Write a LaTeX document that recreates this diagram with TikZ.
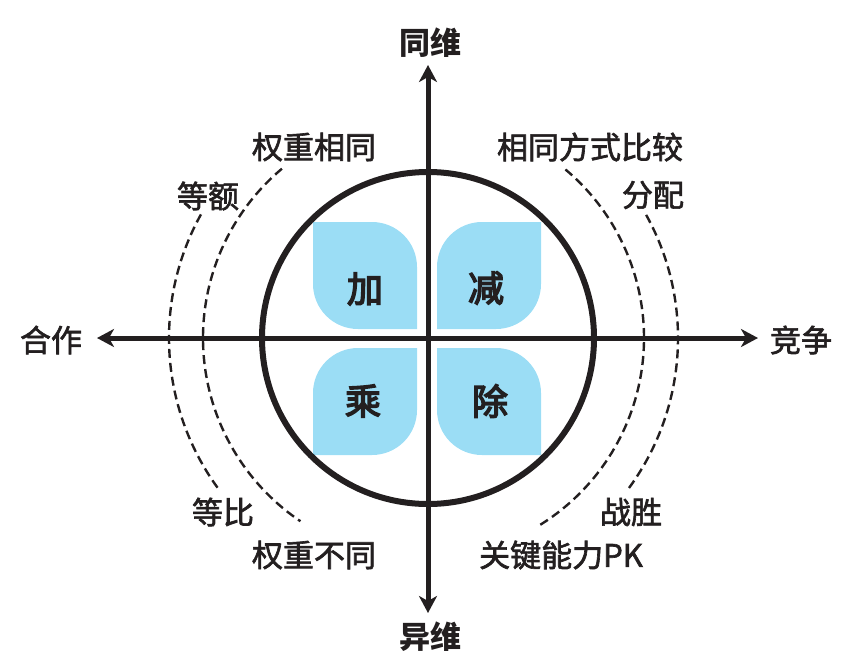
\documentclass[tikz,border=0pt]{standalone}
\usepackage{fontspec}
\setmainfont{Noto Sans CJK SC}
\newfontfamily\lblfont[FakeBold=2]{Noto Sans CJK SC}
\newfontfamily\opfont[FakeBold=4]{Noto Sans CJK SC}
\usetikzlibrary{arrows.meta}
\definecolor{ink}{RGB}{35,31,32}
\definecolor{sky}{RGB}{155,221,245}
\begin{document}
\begin{tikzpicture}[x=1pt,y=-1pt,
  axis/.style={draw=ink,line width=5pt,{Stealth[length=17pt,width=18pt,inset=5pt]}-{Stealth[length=17pt,width=18pt,inset=5pt]}},
  ring/.style={draw=ink,line width=6pt},
  dasharc/.style={draw=ink,line width=2.4pt,dash pattern=on 9pt off 5pt},
  leaf/.style={fill=sky},
  lbl/.style={text=ink,font=\fontsize{31}{31}\lblfont,inner sep=0pt},
  ttl/.style={text=ink,font=\fontsize{31}{31}\selectfont\bfseries,inner sep=0pt},
  op/.style={text=ink,font=\fontsize{36}{36}\opfont,inner sep=0pt}]
\useasboundingbox (0,0) rectangle (849,665);
% blue leaves
\path[leaf] (313,222) -- (372,222) .. controls (396.85,222) and (417,242.15) .. (417,267) -- (417,329) -- (358,329) .. controls (333.15,329) and (313,308.85) .. (313,284) -- cycle;
\path[leaf] (541,222) -- (541,284) .. controls (541,308.85) and (520.85,329) .. (496,329) -- (437,329) -- (437,267) .. controls (437,242.15) and (457.15,222) .. (482,222) -- cycle;
\path[leaf] (417,348) -- (417,410) .. controls (417,434.85) and (396.85,455) .. (372,455) -- (313,455) -- (313,393) .. controls (313,368.15) and (333.15,348) .. (358,348) -- cycle;
\path[leaf] (437,348) -- (496,348) .. controls (520.85,348) and (541,368.15) .. (541,393) -- (541,455) -- (482,455) .. controls (457.15,455) and (437,434.85) .. (437,410) -- cycle;
% circle
\coordinate (O) at (428,338);
\coordinate (D) at (424,338);
\path[ring] (O) circle[radius=166];
% axes
\coordinate (L) at (97,338);
\coordinate (R) at (758,338);
\coordinate (T) at (428,65);
\coordinate (B) at (428,613);
\path[axis] (L) -- (R);
\path[axis] (T) -- (B);
% dashed arcs
\path[dasharc] (D) ++(-50:220) arc[start angle=-50,end angle=59,radius=220];
\path[dasharc] (D) ++(-29:254) arc[start angle=-29,end angle=37,radius=254];
\path[dasharc] (D) ++(-151:255) arc[start angle=-151,end angle=-217,radius=255];
\path[dasharc] (D) ++(-130:221) arc[start angle=-130,end angle=-236,radius=221];
% operators
\node[op] (add) at (365,289) {加};
\node[op] (sub) at (486,288) {减};
\node[op] (mul) at (363,401) {乘};
\node[op] (div) at (490,401) {除};
% axis labels
\node[ttl] (top) at (430,43) {同维};
\node[ttl] (bot) at (430,637) {异维};
\node[lbl] (left) at (51,340) {合作};
\node[lbl] (right) at (801,340) {竞争};
% arc labels
\node[lbl] (a1) at (314,147) {权重相同};
\node[lbl] (a2) at (208,196) {等额};
\node[lbl] (a3) at (223,512) {等比};
\node[lbl] (a4) at (314,555) {权重不同};
\node[lbl] (b1) at (590,147) {相同方式比较};
\node[lbl] (b2) at (653,195) {分配};
\node[lbl] (b3) at (631,512) {战胜};
\node[lbl] (b4) at (561,555) {关键能力PK};
\end{tikzpicture}
\end{document}
